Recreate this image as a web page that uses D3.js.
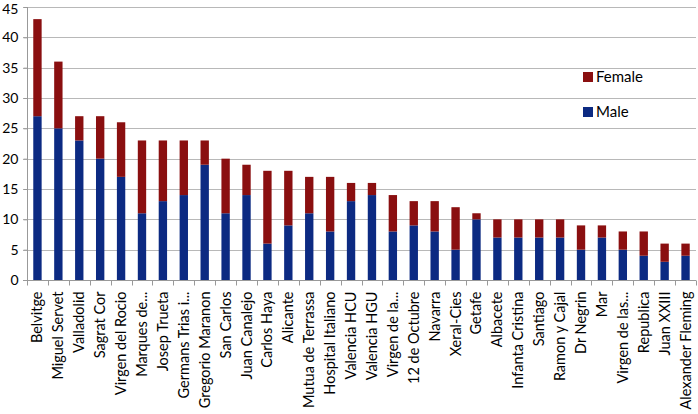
<!DOCTYPE html>
<html>
<head>
<meta charset="utf-8">
<script src="https://d3js.org/d3.v7.min.js"></script>
<style>
  body { margin: 0; background: #fff; }
  svg { display: block; font-family: Lato, "Open Sans", sans-serif; }
</style>
</head>
<body>
<script>
// hospitals, sorted by total
var hospitals = ["Belvitge", "Miguel Servet", "Valladolid", "Sagrat Cor", "Virgen del Rocio",
  "Marques de...", "Josep Trueta", "Germans Trias i...", "Gregorio Maranon", "San Carlos",
  "Juan Canalejo", "Carlos Haya", "Alicante", "Mutua de Terrassa", "Hospital Italiano",
  "Valencia HCU", "Valencia HGU", "Virgen de la...", "12 de Octubre", "Navarra",
  "Xeral-Cies", "Getafe", "Albacete", "Infanta Cristina", "Santiago",
  "Ramon y Cajal", "Dr Negrin", "Mar", "Virgen de las...", "Republica",
  "Juan XXIII", "Alexander Fleming"];

var male   = [27, 25, 23, 20, 17, 11, 13, 14, 19, 11, 14, 6, 9, 11, 8, 13, 14, 8, 9, 8, 5, 10, 7, 7, 7, 7, 5, 7, 5, 4, 3, 4];
var female = [16, 11, 4, 7, 9, 12, 10, 9, 4, 9, 5, 12, 9, 6, 9, 3, 2, 6, 4, 5, 7, 1, 3, 3, 3, 3, 4, 2, 3, 4, 3, 2];

var y_ticks = [0, 5, 10, 15, 20, 25, 30, 35, 40, 45];

var series_names = ["Female", "Male"];
var colors = { Male: "#0c2a82", Female: "#8a0f10" };

var svg_width = 698;
var svg_height = 414;
var margin = { top: 7, right: 2, bottom: 134, left: 27 };

var svg = d3.select("body")
  .append("svg")
  .attr("width", svg_width)
  .attr("height", svg_height);

// build rows for the stack
var rows = hospitals.map(function(h, i) {
  return { name: h, Male: male[i], Female: female[i] };
});

var x_scale = d3.scaleBand()
  .domain(hospitals)
  .range([margin.left, svg_width - margin.right])
  .paddingInner(0.6)
  .paddingOuter(0.3);

var y_scale = d3.scaleLinear()
  .domain([0, 45])
  .range([svg_height - margin.bottom, margin.top]);

// gridlines
svg.append("g")
  .selectAll("line")
  .data(y_ticks.slice(1))
  .enter()
  .append("line")
  .attr("x1", margin.left - 4)
  .attr("x2", svg_width - margin.right)
  .attr("y1", function(d) { return Math.round(y_scale(d)) + 0.5; })
  .attr("y2", function(d) { return Math.round(y_scale(d)) + 0.5; })
  .attr("stroke", "#b8b8b8")
  .attr("stroke-width", 1);

// stacked bars
var stack = d3.stack().keys(["Male", "Female"]);
var layers = stack(rows);

svg.append("g")
  .selectAll("g")
  .data(layers)
  .enter()
  .append("g")
  .attr("fill", function(d) { return colors[d.key]; })
  .selectAll("rect")
  .data(function(d) { return d; })
  .enter()
  .append("rect")
  .attr("x", function(d) { return x_scale(d.data.name); })
  .attr("width", x_scale.bandwidth())
  .attr("y", function(d) { return y_scale(d[1]); })
  .attr("height", function(d) { return y_scale(d[0]) - y_scale(d[1]); });

// y axis
var y_axis = d3.axisLeft(y_scale)
  .tickValues(y_ticks)
  .tickSize(4)
  .tickPadding(5);

var gy = svg.append("g")
  .attr("transform", "translate(" + (margin.left + 0.5) + ",0)")
  .call(y_axis);
gy.select(".domain").attr("stroke", "#999").attr("d", "M0," + margin.top + "V" + y_scale(0));
gy.selectAll(".tick line").attr("stroke", "#999");
gy.selectAll(".tick text")
  .attr("fill", "#000")
  .style("font-size", "14px")
  .style("font-family", "Lato, 'Open Sans', sans-serif");
// keep the top label inside the page
gy.selectAll(".tick text")
  .filter(function(d) { return d === 45; })
  .attr("y", 2);

// x axis: ticks between categories
var x0 = margin.left;
var boundaries = d3.range(hospitals.length + 1);
var bx = function(d) {
  return Math.round(x0 + d * (svg_width - margin.right - x0) / hospitals.length) + 0.5;
};

var gx = svg.append("g")
  .attr("transform", "translate(0," + (Math.round(y_scale(0)) + 0.5) + ")");

gx.append("line")
  .attr("x1", x0 - 4)
  .attr("x2", svg_width - margin.right)
  .attr("stroke", "#999");

gx.selectAll(".xt")
  .data(boundaries)
  .enter()
  .append("line")
  .attr("class", "xt")
  .attr("x1", bx)
  .attr("x2", bx)
  .attr("y1", 0)
  .attr("y2", 5)
  .attr("stroke", "#999");

gx.selectAll("text")
  .data(hospitals)
  .enter()
  .append("text")
  .attr("transform", function(d) {
    var cx = x_scale(d) + x_scale.bandwidth() / 2;
    return "translate(" + (cx + 5) + ",11) rotate(-90)";
  })
  .attr("text-anchor", "end")
  .style("font-size", "14.5px")
  .attr("fill", "#000")
  .text(function(d) { return d; });

// legend
var legend = svg.append("g")
  .attr("transform", "translate(583,72)");

legend.selectAll("g")
  .data(series_names)
  .enter()
  .append("g")
  .attr("transform", function(d, i) { return "translate(0," + (i * 35) + ")"; })
  .each(function(d) {
    var g = d3.select(this);
    g.append("rect")
      .attr("width", 10)
      .attr("height", 10)
      .attr("fill", colors[d]);
    g.append("text")
      .attr("x", 13)
      .attr("y", 10)
      .style("font-size", "15px")
      .attr("fill", "#000")
      .text(d);
  });
</script>
</body>
</html>
